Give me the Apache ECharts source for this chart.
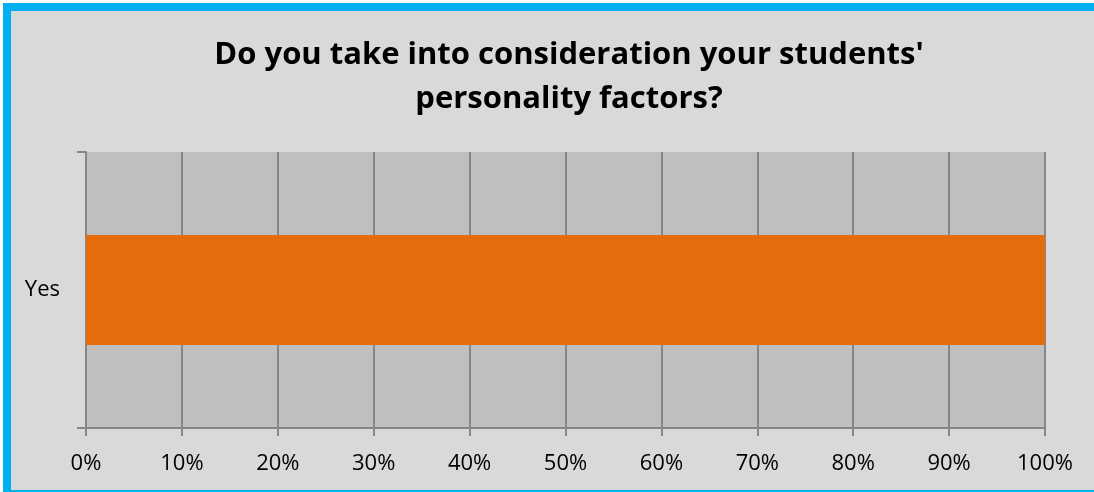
<!DOCTYPE html>
<html>
<head>
<meta charset="utf-8">
<script src="https://cdn.jsdelivr.net/npm/echarts@6/dist/echarts.min.js"></script>
<style>
  html, body { margin: 0; padding: 0; background: #fff; overflow: hidden; }
  #chart { width: 1094px; height: 492px; }
</style>
</head>
<body>
<div id="chart"></div>
<script>
const titleText = "Do you take into consideration your students'\npersonality factors?";
const categories = ['Yes'];
const values = [100];
const xTicks = { min: 0, max: 100, step: 10 };

const chart = echarts.init(document.getElementById('chart'));

chart.setOption({
  animation: false,
  backgroundColor: '#fff',
  title: {
    text: titleText,
    left: 564,
    top: 28,
    textAlign: 'center',
    textStyle: {
      fontFamily: 'Open Sans',
      fontWeight: 'bold',
      fontSize: 31,
      lineHeight: 44,
      color: '#000'
    }
  },
  grid: { left: 86, top: 152, width: 959, height: 276, containLabel: false },
  xAxis: {
    type: 'value',
    min: xTicks.min,
    max: xTicks.max,
    interval: xTicks.step,
    axisLine: { show: true, lineStyle: { color: '#868686', width: 2 } },
    axisTick: { show: true, length: 8, lineStyle: { color: '#868686', width: 2 } },
    splitLine: { show: true, lineStyle: { color: '#868686', width: 2 } },
    axisLabel: {
      formatter: '{value}%',
      fontFamily: 'Open Sans',
      fontSize: 22,
      color: '#000',
      margin: 25
    }
  },
  yAxis: {
    type: 'category',
    data: categories,
    axisLine: { show: true, lineStyle: { color: '#868686', width: 2 } },
    axisTick: { show: true, length: 9, lineStyle: { color: '#868686', width: 2 } },
    axisLabel: {
      fontFamily: 'Open Sans',
      fontSize: 22,
      color: '#000',
      margin: 26
    }
  },
  series: [{
    type: 'bar',
    data: values,
    barWidth: 110,
    itemStyle: { color: '#e46c0a' },
    z: 3
  }],
  graphic: [
    // outer frame: gray panel with blue left / top / bottom edges
    { type: 'rect', shape: { x: 3, y: 3, width: 1091, height: 489 }, style: { fill: '#00b0f0' }, z: -10, silent: true },
    { type: 'rect', shape: { x: 11, y: 11, width: 1083, height: 479 }, style: { fill: '#d9d9d9' }, z: -9, silent: true },
    // plot area
    { type: 'rect', shape: { x: 86, y: 152, width: 959, height: 276 }, style: { fill: '#bfbfbf' }, z: -1, silent: true }
  ]
});
</script>
</body>
</html>
